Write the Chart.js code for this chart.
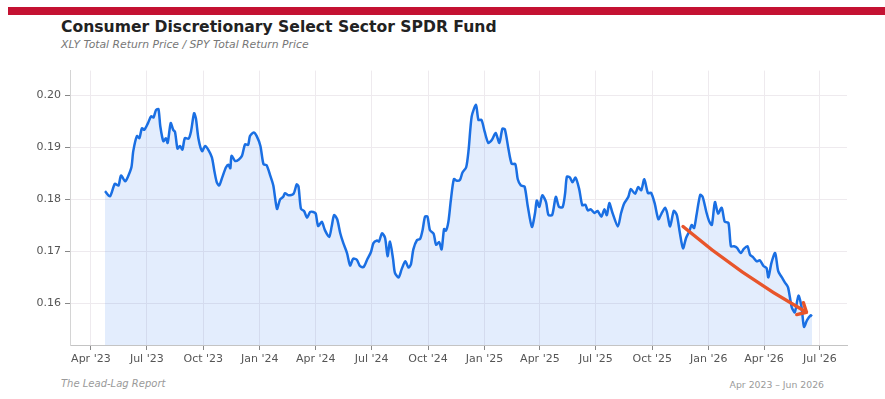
<!DOCTYPE html>
<html>
<head>
<meta charset="utf-8">
<script src="https://cdn.jsdelivr.net/npm/chart.js@4.4.1/dist/chart.umd.min.js"></script>
<style>
  body { margin: 0; width: 885px; height: 399px; background: #fff; position: relative; overflow: hidden; font-family: "DejaVu Sans", sans-serif; }
  .barra { position: absolute; left: 8px; top: 7px; width: 877px; height: 8px; background: #c41232; }
  .titulo { position: absolute; left: 61px; top: 18px; font-size: 15.6px; font-weight: bold; color: #222; }
  .subtitulo { position: absolute; left: 61px; top: 38px; font-size: 10.8px; font-style: italic; color: #777; }
  .pie { position: absolute; top: 378px; font-size: 10px; color: #9a9a9a; }
  #contenedor { position: absolute; left: 0; top: 60px; }
</style>
</head>
<body>
<div class="barra"></div>
<div class="titulo">Consumer Discretionary Select Sector SPDR Fund</div>
<div class="subtitulo">XLY Total Return Price / SPY Total Return Price</div>
<div id="contenedor"><canvas id="grafico" width="885" height="312"></canvas></div>
<div class="pie" style="left:61px; font-style:italic;">The Lead-Lag Report</div>
<div class="pie" style="right:61px; font-size:9.3px; top:379px;">Apr 2023 – Jun 2026</div>
<script>
// DATOS
const fechas = [
  '2023-04-24','2023-05-02','2023-05-10','2023-05-16','2023-05-20','2023-05-27','2023-05-31','2023-06-06','2023-06-09','2023-06-15','2023-06-19','2023-06-23','2023-06-27',
  '2023-07-03','2023-07-08','2023-07-12','2023-07-16','2023-07-20','2023-07-23','2023-07-28','2023-08-01','2023-08-04','2023-08-09','2023-08-13','2023-08-16','2023-08-20','2023-08-24','2023-08-28',
  '2023-09-01','2023-09-07','2023-09-11','2023-09-16','2023-09-19','2023-09-23','2023-09-29','2023-10-04','2023-10-09','2023-10-15','2023-10-19','2023-10-23','2023-10-27',
  '2023-11-01','2023-11-07','2023-11-11','2023-11-14','2023-11-16','2023-11-22','2023-11-28','2023-12-03','2023-12-08','2023-12-13','2023-12-16','2023-12-22','2023-12-27',
  '2024-01-02','2024-01-07','2024-01-12','2024-01-18','2024-01-23','2024-01-29','2024-02-03','2024-02-08','2024-02-11','2024-02-17','2024-02-25','2024-03-01','2024-03-04','2024-03-08','2024-03-13','2024-03-18','2024-03-23','2024-03-28',
  '2024-04-01','2024-04-05','2024-04-11','2024-04-16','2024-04-23','2024-04-27','2024-05-01','2024-05-06','2024-05-11','2024-05-16','2024-05-22','2024-05-27','2024-06-01','2024-06-07','2024-06-12','2024-06-18','2024-06-24','2024-06-30',
  '2024-07-04','2024-07-10','2024-07-13','2024-07-18','2024-07-23','2024-07-27','2024-07-31','2024-08-05','2024-08-08','2024-08-14','2024-08-19','2024-08-25','2024-08-30',
  '2024-09-03','2024-09-07','2024-09-13','2024-09-18','2024-09-22','2024-09-26','2024-09-30','2024-10-04','2024-10-10','2024-10-14','2024-10-19','2024-10-23','2024-10-27','2024-10-30',
  '2024-11-03','2024-11-07','2024-11-12','2024-11-17','2024-11-22','2024-11-26','2024-12-02','2024-12-06','2024-12-11','2024-12-18','2024-12-22','2024-12-27',
  '2025-01-01','2025-01-07','2025-01-13','2025-01-19','2025-01-25','2025-01-30','2025-02-03','2025-02-09','2025-02-14','2025-02-20','2025-02-24','2025-03-01','2025-03-07','2025-03-12','2025-03-19','2025-03-24','2025-03-27','2025-03-31',
  '2025-04-05','2025-04-11','2025-04-15','2025-04-21','2025-04-27','2025-05-02','2025-05-08','2025-05-12','2025-05-15','2025-05-20','2025-05-24','2025-05-29','2025-06-04','2025-06-09','2025-06-14','2025-06-18','2025-06-23','2025-06-29',
  '2025-07-04','2025-07-10','2025-07-15','2025-07-19','2025-07-23','2025-07-28','2025-08-06','2025-08-11','2025-08-16','2025-08-23','2025-08-27','2025-09-03','2025-09-08','2025-09-13','2025-09-18','2025-09-24','2025-09-29',
  '2025-10-05','2025-10-11','2025-10-16','2025-10-22','2025-10-25','2025-10-30','2025-11-05','2025-11-10','2025-11-15','2025-11-20','2025-11-25','2025-11-30','2025-12-04','2025-12-08','2025-12-12','2025-12-18','2025-12-22','2025-12-28',
  '2026-01-02','2026-01-06','2026-01-11','2026-01-16','2026-01-22','2026-01-27','2026-02-02','2026-02-06','2026-02-11','2026-02-16','2026-02-22','2026-02-27','2026-03-05','2026-03-09','2026-03-14','2026-03-20','2026-03-25','2026-03-31',
  '2026-04-05','2026-04-08','2026-04-13','2026-04-19','2026-04-24','2026-04-30','2026-05-05','2026-05-10','2026-05-16','2026-05-21','2026-05-27','2026-06-01','2026-06-05','2026-06-10','2026-06-16','2026-06-18'
];
const ratio = [
  0.1816,0.1806,0.1830,0.1827,0.1846,0.1835,0.1843,0.1862,0.1893,0.1922,0.1918,0.1937,0.1934,
  0.1947,0.1960,0.1958,0.1972,0.1974,0.1941,0.1912,0.1918,0.1909,0.1947,0.1934,0.1930,0.1898,0.1903,0.1896,
  0.1918,0.1917,0.1931,0.1966,0.1956,0.1918,0.1893,0.1903,0.1896,0.1881,0.1855,0.1833,0.1827,
  0.1843,0.1862,0.1867,0.1860,0.1884,0.1874,0.1877,0.1884,0.1906,0.1905,0.1922,0.1929,0.1922,
  0.1903,0.1868,0.1866,0.1846,0.1827,0.1782,0.1800,0.1805,0.1812,0.1808,0.1811,0.1829,0.1825,0.1782,0.1778,0.1765,0.1776,0.1776,
  0.1773,0.1749,0.1757,0.1741,0.1728,0.1748,0.1770,0.1762,0.1735,0.1716,0.1697,0.1673,0.1686,0.1684,0.1672,0.1670,0.1685,0.1699,
  0.1716,0.1721,0.1719,0.1735,0.1726,0.1691,0.1719,0.1685,0.1659,0.1650,0.1666,0.1681,0.1669,
  0.1675,0.1704,0.1722,0.1724,0.1741,0.1767,0.1767,0.1741,0.1734,0.1713,0.1718,0.1704,0.1743,0.1740,
  0.1757,0.1798,0.1839,0.1836,0.1838,0.1852,0.1862,0.1896,0.1960,0.1982,0.1953,0.1953,
  0.1931,0.1909,0.1915,0.1928,0.1909,0.1936,0.1935,0.1896,0.1869,0.1868,0.1839,0.1827,0.1825,0.1789,0.1747,0.1773,0.1798,0.1786,
  0.1808,0.1795,0.1770,0.1770,0.1805,0.1786,0.1785,0.1811,0.1844,0.1842,0.1833,0.1842,0.1820,0.1789,0.1790,0.1779,0.1781,0.1774,
  0.1778,0.1767,0.1781,0.1770,0.1793,0.1775,0.1748,0.1773,0.1792,0.1805,0.1820,0.1811,0.1824,0.1818,0.1839,0.1812,0.1813,
  0.1792,0.1762,0.1773,0.1784,0.1775,0.1748,0.1778,0.1770,0.1735,0.1706,0.1726,0.1738,0.1751,0.1745,0.1770,0.1809,0.1805,0.1776,
  0.1757,0.1751,0.1795,0.1773,0.1784,0.1757,0.1755,0.1710,0.1710,0.1707,0.1697,0.1705,0.1710,0.1694,0.1689,0.1681,0.1683,0.1672,
  0.1668,0.1650,0.1678,0.1697,0.1662,0.1650,0.1640,0.1631,0.1593,0.1583,0.1615,0.1593,0.1555,0.1568,0.1577,0.1575
];
const ticksFechas = ['2023-04-01','2023-07-01','2023-10-01','2024-01-01','2024-04-01','2024-07-01','2024-10-01','2025-01-01','2025-04-01','2025-07-01','2025-10-01','2026-01-01','2026-04-01','2026-07-01'];
const ticksEtiquetas = ["Apr '23","Jul '23","Oct '23","Jan '24","Apr '24","Jul '24","Oct '24","Jan '25","Apr '25","Jul '25","Oct '25","Jan '26","Apr '26","Jul '26"];
const ticksY = [0.16, 0.17, 0.18, 0.19, 0.20];
// flecha de tendencia: inicio, control, fin  [fecha, valor]
const flechaInicio = ['2025-11-20', 0.1748];
const flechaControl = ['2026-02-21', 0.1655];
const flechaFin = ['2026-06-09', 0.1583];

const dia = s => Date.parse(s + 'T00:00:00Z') / 864e5;

const pluginFlecha = {
    id: 'flecha',
    afterDatasetsDraw(chart) {
        const { ctx, scales: { x, y } } = chart;
        const p = f => [x.getPixelForValue(dia(f[0])), y.getPixelForValue(f[1])];
        const [x0, y0] = p(flechaInicio), [cx, cy] = p(flechaControl), [x1, y1] = p(flechaFin);
        ctx.save();
        ctx.strokeStyle = '#e8552b'; ctx.lineWidth = 3.4; ctx.lineCap = 'round'; ctx.lineJoin = 'round';
        ctx.beginPath(); ctx.moveTo(x0, y0); ctx.quadraticCurveTo(cx, cy, x1, y1); ctx.stroke();
        const ang = Math.atan2(y1 - cy, x1 - cx), largo = 10;
        ctx.beginPath();
        ctx.moveTo(x1 + largo * Math.cos(ang + Math.PI - 0.75), y1 + largo * Math.sin(ang + Math.PI - 0.75));
        ctx.lineTo(x1, y1);
        ctx.lineTo(x1 + largo * Math.cos(ang + Math.PI + 0.75), y1 + largo * Math.sin(ang + Math.PI + 0.75));
        ctx.stroke();
        ctx.restore();
    }
};

const colorGrilla = '#eeeaee';
new Chart(document.getElementById('grafico'), {
    type: 'line',
    data: {
        datasets: [{
            data: fechas.map((f, i) => ({ x: dia(f), y: ratio[i] })),
            borderColor: '#1a6fe3', borderWidth: 2.5, pointRadius: 0, tension: 0.25,
            fill: 'start', backgroundColor: 'rgba(60,130,240,0.14)'
        }]
    },
    options: {
        responsive: false, animation: false, devicePixelRatio: 1,
        layout: { padding: { top: 7, right: 38, left: 0, bottom: 0 } },
        plugins: { legend: { display: false }, tooltip: { enabled: false } },
        scales: {
            x: {
                type: 'linear', min: dia('2023-02-26'), max: dia('2026-08-14'),
                afterBuildTicks: s => { s.ticks = ticksFechas.map(f => ({ value: dia(f) })); },
                afterFit: s => { s.height = 27; },
                ticks: { autoSkip: false, maxRotation: 0, padding: 3, color: '#555', font: { family: 'DejaVu Sans', size: 11 },
                         callback: (v, i) => ticksEtiquetas[i] },
                grid: { color: colorGrilla, tickColor: '#888', tickLength: 5 },
                border: { color: '#c4c4c4' }
            },
            y: {
                min: 0.152, max: 0.2048,
                afterBuildTicks: s => { s.ticks = ticksY.map(v => ({ value: v })); },
                afterFit: s => { s.width = 70; },
                ticks: { padding: 4, color: '#555', font: { family: 'DejaVu Sans', size: 11 }, callback: v => v.toFixed(2) },
                grid: { color: colorGrilla, tickColor: '#888', tickLength: 5 },
                border: { color: '#d4d4d4' }
            }
        }
    },
    plugins: [pluginFlecha]
});
</script>
</body>
</html>
